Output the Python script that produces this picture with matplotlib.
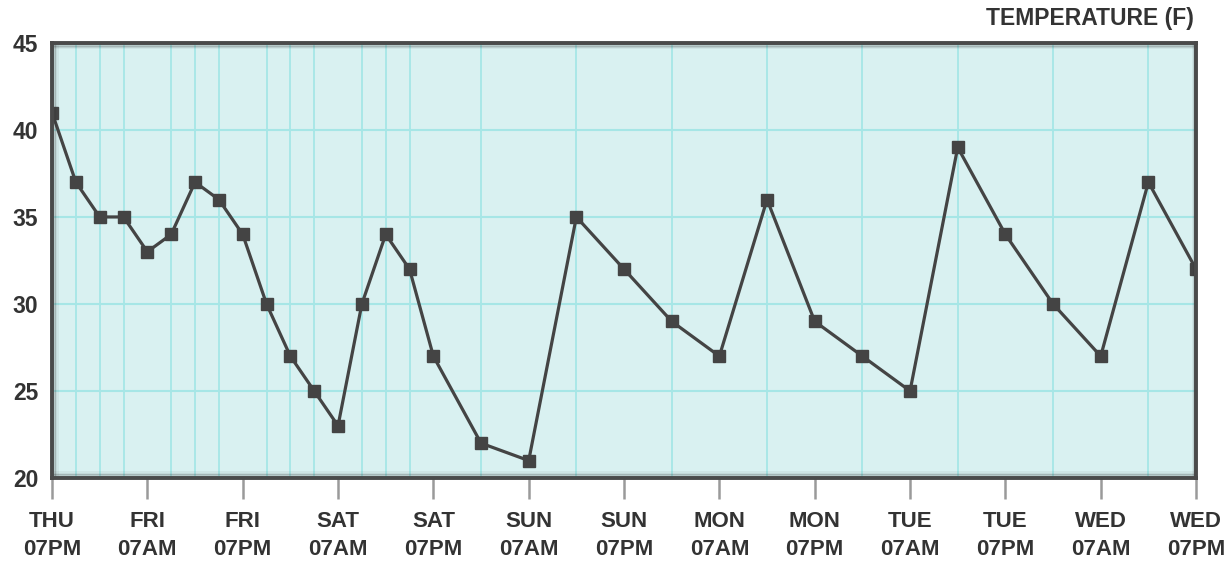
import matplotlib
matplotlib.use("Agg")
import matplotlib.pyplot as plt
import matplotlib.ticker as ticker
import matplotlib.transforms as mtransforms

# hours since THU 07PM and temperature readings
hours = [0, 3, 6, 9, 12, 15, 18, 21, 24, 27, 30, 33, 36, 39, 42, 45, 48,
         54, 60, 66, 72, 78, 84, 90, 96, 102, 108, 114, 120, 126, 132, 138, 144]
temps = [41, 37, 35, 35, 33, 34, 37, 36, 34, 30, 27, 25, 23, 30, 34, 32, 27,
         22, 21, 35, 32, 29, 27, 36, 29, 27, 25, 39, 34, 30, 27, 37, 32]

tick_hours = [0, 12, 24, 36, 48, 60, 72, 84, 96, 108, 120, 132, 144]
tick_labels = ["THU\n07PM", "FRI\n07AM", "FRI\n07PM", "SAT\n07AM", "SAT\n07PM",
               "SUN\n07AM", "SUN\n07PM", "MON\n07AM", "MON\n07PM", "TUE\n07AM",
               "TUE\n07PM", "WED\n07AM", "WED\n07PM"]

plt.rcParams['font.family'] = ['Liberation Sans', 'DejaVu Sans']

fig = plt.figure(figsize=(12.3, 5.65), dpi=100)
ax = fig.add_axes([0.0423, 0.154, 0.9301, 0.770])

ax.set_facecolor('#d9f1f1')
ax.set_xlim(0, 144)
ax.set_ylim(20, 45)

# grid: horizontal every 5, vertical at each reading
ax.yaxis.set_major_locator(ticker.MultipleLocator(5))
ax.xaxis.set_major_locator(ticker.FixedLocator(tick_hours))
ax.xaxis.set_minor_locator(ticker.FixedLocator(hours))
ax.grid(which='major', axis='y', color='#a6e6e6', linewidth=1.5)
ax.grid(which='minor', axis='x', color='#a6e6e6', linewidth=1.3)
ax.set_axisbelow(True)

ax.plot(hours, temps, color='#444444', linewidth=2.3, marker='s',
        markersize=8, markerfacecolor='#444444', markeredgecolor='#444444',
        zorder=3)

# frame with a soft inner shadow
for sp in ax.spines.values():
    sp.set_color('#4a4a4a')
    sp.set_linewidth(2.8)
    sp.set_zorder(5)
for i, a in enumerate([0.4, 0.26, 0.15, 0.07]):
    off = (i + 1) * 1.0
    for (x0, x1, y0, y1, dx, dy) in [(0, 0, 0, 1, off, 0), (0, 1, 0, 0, 0, off),
                                     (0, 1, 1, 1, 0, -off), (1, 1, 0, 1, -off * 0.5, 0)]:
        tr = ax.transAxes + mtransforms.ScaledTranslation(dx / 72, dy / 72, fig.dpi_scale_trans)
        ax.plot([x0, x1], [y0, y1], transform=tr, color='#333333', alpha=a,
                linewidth=1.2, clip_on=True, zorder=4)

ax.set_xticks(tick_hours)
ax.set_xticklabels(tick_labels, fontsize=16, fontweight='bold', color='#333333',
                   linespacing=1.4)
ax.tick_params(axis='x', which='major', direction='out', length=15, width=1.8,
               color='#9a9a9a', pad=9)
ax.tick_params(axis='x', which='minor', length=0)
ax.tick_params(axis='y', length=0, pad=10, labelsize=16.5, labelcolor='#333333')
for lbl in ax.get_yticklabels():
    lbl.set_fontweight('bold')

fig.text(0.971, 0.968, "TEMPERATURE (F)", ha='right', va='center',
         fontsize=16.5, fontweight='bold', color='#333333')

fig.savefig("out.png", dpi=100)
